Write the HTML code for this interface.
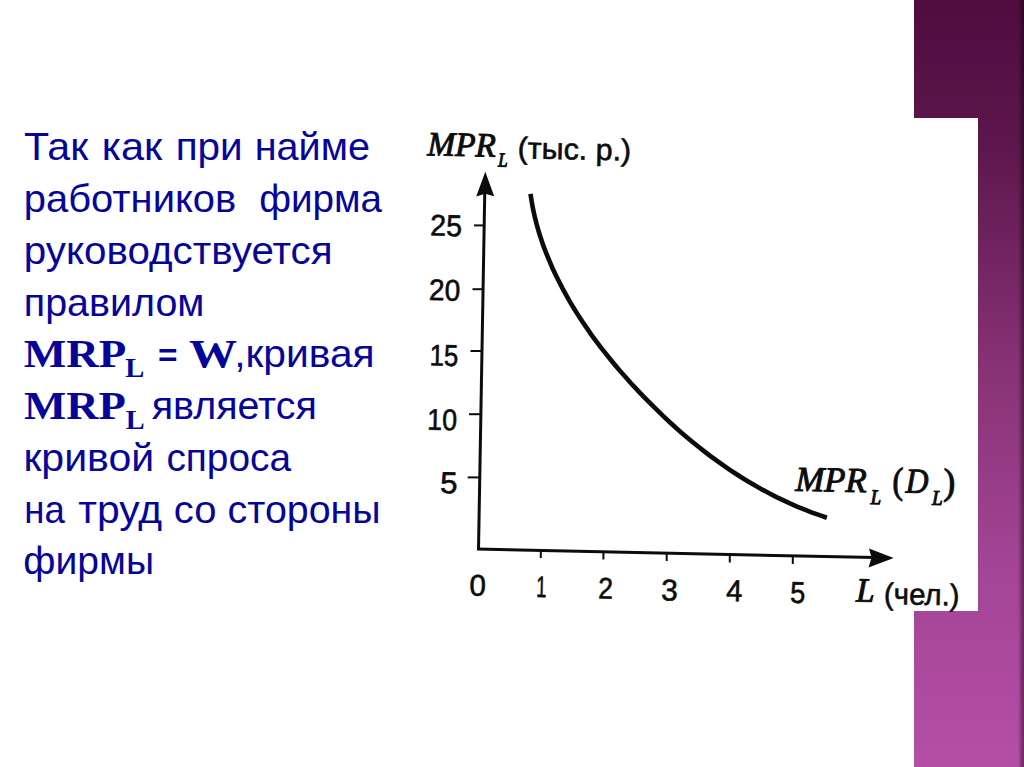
<!DOCTYPE html>
<html lang="ru">
<head>
<meta charset="utf-8">
<title>MRP</title>
<style>
html,body{margin:0;padding:0;}
body{width:1024px;height:767px;position:relative;overflow:hidden;background:#fff;}
.bar{position:absolute;left:914px;top:0;width:110px;height:767px;
  background:linear-gradient(to bottom,#4f0c3f 0%,#5c164b 18%,#8a3478 50%,#a44596 75%,#b44ea6 100%);}
.shade{position:absolute;left:1018px;top:0;width:6px;height:767px;
  background:linear-gradient(to right,rgba(0,0,0,0) 0%,rgba(0,0,0,.37) 75%,rgba(0,0,0,.4) 100%);}
.pic{position:absolute;left:405px;top:118px;width:573px;height:493px;background:#fff;}
svg.main{position:absolute;left:0;top:0;}
</style>
</head>
<body>
<div class="bar"></div>
<div class="shade"></div>
<div class="pic"></div>
<svg class="main" width="1024" height="767" viewBox="0 0 1024 767">
<g stroke="#0c0c0c" fill="none">
  <line x1="478.5" y1="549.5" x2="484.8" y2="190" stroke-width="3"/>
  <line x1="477" y1="549" x2="875" y2="557.6" stroke-width="3"/>
  <g stroke-width="2">
    <line x1="474" y1="225.4" x2="484.5" y2="225.4"/>
    <line x1="472.5" y1="289.2" x2="483.5" y2="289.2"/>
    <line x1="470.5" y1="351" x2="482.5" y2="351"/>
    <line x1="469" y1="414.2" x2="481.5" y2="414.2"/>
    <line x1="467.7" y1="477.4" x2="480" y2="477.4"/>
    <line x1="540.8" y1="550" x2="540.8" y2="558"/>
    <line x1="603.4" y1="551" x2="603.4" y2="559.5"/>
    <line x1="666.7" y1="552.5" x2="666.7" y2="561"/>
    <line x1="729.8" y1="554" x2="729.8" y2="562.5"/>
    <line x1="792.8" y1="555.5" x2="792.8" y2="564"/>
  </g>
  <path d="M530.5,193.9 L531.7,201.7 L533.1,209.3 L534.8,216.9 L536.7,224.4 L538.8,231.8 L541.1,239.1 L543.6,246.4 L546.4,253.6 L549.3,260.7 L552.3,267.7 L555.6,274.7 L559.0,281.6 L562.5,288.4 L566.2,295.2 L570.0,301.9 L574.0,308.5 L578.1,315.1 L582.3,321.5 L586.7,327.9 L591.1,334.3 L595.7,340.6 L600.4,346.8 L605.2,352.9 L610.1,359.0 L615.0,365.0 L620.1,371.0 L625.3,376.8 L630.5,382.7 L635.8,388.4 L641.2,394.1 L646.6,399.7 L652.1,405.2 L657.7,410.7 L663.3,416.1 L669.0,421.5 L674.8,426.7 L680.6,431.9 L686.5,436.9 L692.5,441.9 L698.5,446.8 L704.6,451.6 L710.8,456.3 L717.1,460.9 L723.4,465.4 L729.8,469.8 L736.2,474.0 L742.8,478.2 L749.4,482.2 L756.0,486.1 L762.8,489.9 L769.6,493.5 L776.5,497.1 L783.5,500.4 L790.5,503.7 L797.6,506.8 L804.8,509.7 L812.1,512.6 L819.5,515.2 L826.9,517.7" stroke-width="4.6"/>
</g>
<g fill="#0c0c0c">
  <polygon points="485.3,171.7 476.2,196.6 485,193.8 494.2,196.2"/>
  <polygon points="893.7,558.1 869,548.4 871.5,557.6 868.6,567.6"/>
</g>

<text x="23.94" y="160.20" font-family="'Liberation Sans', sans-serif" font-size="39" fill="#05059a" textLength="64.28" lengthAdjust="spacingAndGlyphs">Так</text>
<text x="101.80" y="160.20" font-family="'Liberation Sans', sans-serif" font-size="39" fill="#05059a" textLength="60.45" lengthAdjust="spacingAndGlyphs">как</text>
<text x="175.69" y="160.20" font-family="'Liberation Sans', sans-serif" font-size="39" fill="#05059a" textLength="67.00" lengthAdjust="spacingAndGlyphs">при</text>
<text x="254.65" y="160.20" font-family="'Liberation Sans', sans-serif" font-size="39" fill="#05059a" textLength="115.29" lengthAdjust="spacingAndGlyphs">найме</text>
<text x="23.83" y="211.90" font-family="'Liberation Sans', sans-serif" font-size="39" fill="#05059a" textLength="212.36" lengthAdjust="spacingAndGlyphs">работников</text>
<text x="259.22" y="211.90" font-family="'Liberation Sans', sans-serif" font-size="39" fill="#05059a" textLength="122.86" lengthAdjust="spacingAndGlyphs">фирма</text>
<text x="23.80" y="263.50" font-family="'Liberation Sans', sans-serif" font-size="39" fill="#05059a" textLength="308.84" lengthAdjust="spacingAndGlyphs">руководствуется</text>
<text x="23.87" y="315.70" font-family="'Liberation Sans', sans-serif" font-size="39" fill="#05059a" textLength="180.56" lengthAdjust="spacingAndGlyphs">правилом</text>
<text x="23.70" y="367.20" font-family="'Liberation Serif', serif" font-size="41" font-weight="bold" fill="#05059a" textLength="102.49" lengthAdjust="spacingAndGlyphs">MRP</text>
<text x="125.30" y="376.70" font-family="'Liberation Serif', serif" font-size="27" font-weight="bold" fill="#05059a" textLength="19.08" lengthAdjust="spacingAndGlyphs">L</text>
<text x="158.06" y="365.80" font-family="'Liberation Sans', sans-serif" font-size="32" font-weight="bold" fill="#05059a" textLength="19.51" lengthAdjust="spacingAndGlyphs">=</text>
<text x="189.03" y="367.00" font-family="'Liberation Serif', serif" font-size="41" font-weight="bold" fill="#05059a" textLength="48.04" lengthAdjust="spacingAndGlyphs">W</text>
<text x="234.22" y="367.20" font-family="'Liberation Sans', sans-serif" font-size="39" fill="#05059a" textLength="140.46" lengthAdjust="spacingAndGlyphs">,кривая</text>
<text x="23.91" y="419.00" font-family="'Liberation Serif', serif" font-size="41" font-weight="bold" fill="#05059a" textLength="101.87" lengthAdjust="spacingAndGlyphs">MRP</text>
<text x="125.70" y="428.50" font-family="'Liberation Serif', serif" font-size="27" font-weight="bold" fill="#05059a" textLength="18.86" lengthAdjust="spacingAndGlyphs">L</text>
<text x="151.79" y="418.90" font-family="'Liberation Sans', sans-serif" font-size="39" fill="#05059a" textLength="165.00" lengthAdjust="spacingAndGlyphs">является</text>
<text x="23.45" y="470.80" font-family="'Liberation Sans', sans-serif" font-size="39" fill="#05059a" textLength="130.67" lengthAdjust="spacingAndGlyphs">кривой</text>
<text x="166.41" y="470.80" font-family="'Liberation Sans', sans-serif" font-size="39" fill="#05059a" textLength="124.69" lengthAdjust="spacingAndGlyphs">спроса</text>
<text x="24.19" y="522.60" font-family="'Liberation Sans', sans-serif" font-size="39" fill="#05059a" textLength="40.53" lengthAdjust="spacingAndGlyphs">на</text>
<text x="78.35" y="522.60" font-family="'Liberation Sans', sans-serif" font-size="39" fill="#05059a" textLength="83.77" lengthAdjust="spacingAndGlyphs">труд</text>
<text x="173.75" y="522.60" font-family="'Liberation Sans', sans-serif" font-size="39" fill="#05059a" textLength="42.74" lengthAdjust="spacingAndGlyphs">со</text>
<text x="227.58" y="522.60" font-family="'Liberation Sans', sans-serif" font-size="39" fill="#05059a" textLength="153.12" lengthAdjust="spacingAndGlyphs">стороны</text>
<text x="23.29" y="574.20" font-family="'Liberation Sans', sans-serif" font-size="39" fill="#05059a" textLength="130.82" lengthAdjust="spacingAndGlyphs">фирмы</text>
<text x="427.28" y="155.30" font-family="'Liberation Serif', serif" font-size="34" font-style="italic" fill="#0c0c0c" textLength="68.29" lengthAdjust="spacingAndGlyphs" stroke="#0c0c0c" stroke-width="1.0" transform="rotate(1.15 427.28 155.30)">MPR</text>
<text x="497.96" y="166.50" font-family="'Liberation Serif', serif" font-size="20" font-style="italic" fill="#0c0c0c" textLength="9.55" lengthAdjust="spacingAndGlyphs" stroke="#0c0c0c" stroke-width="1.0" transform="rotate(1.15 497.96 166.50)">L</text>
<text x="517.47" y="158.30" font-family="'Liberation Sans', sans-serif" font-size="30" fill="#0c0c0c" textLength="113.53" lengthAdjust="spacingAndGlyphs" stroke="#0c0c0c" stroke-width="0.6" transform="rotate(1.15 517.47 158.30)">(тыс. р.)</text>
<text x="430.05" y="235.60" font-family="'Liberation Sans', sans-serif" font-size="30" fill="#0c0c0c" textLength="31.71" lengthAdjust="spacingAndGlyphs" stroke="#0c0c0c" stroke-width="0.6" transform="rotate(1.15 430.05 235.60)">25</text>
<text x="428.87" y="300.10" font-family="'Liberation Sans', sans-serif" font-size="30" fill="#0c0c0c" textLength="31.18" lengthAdjust="spacingAndGlyphs" stroke="#0c0c0c" stroke-width="0.6" transform="rotate(1.15 428.87 300.10)">20</text>
<text x="429.38" y="365.50" font-family="'Liberation Sans', sans-serif" font-size="30" fill="#0c0c0c" textLength="28.64" lengthAdjust="spacingAndGlyphs" stroke="#0c0c0c" stroke-width="0.6" transform="rotate(1.15 429.38 365.50)">15</text>
<text x="427.11" y="429.70" font-family="'Liberation Sans', sans-serif" font-size="30" fill="#0c0c0c" textLength="29.82" lengthAdjust="spacingAndGlyphs" stroke="#0c0c0c" stroke-width="0.6" transform="rotate(1.15 427.11 429.70)">10</text>
<text x="439.96" y="492.90" font-family="'Liberation Sans', sans-serif" font-size="30" fill="#0c0c0c" textLength="17.36" lengthAdjust="spacingAndGlyphs" stroke="#0c0c0c" stroke-width="0.6" transform="rotate(1.15 439.96 492.90)">5</text>
<text x="469.21" y="595.50" font-family="'Liberation Sans', sans-serif" font-size="30" fill="#0c0c0c" textLength="16.47" lengthAdjust="spacingAndGlyphs" stroke="#0c0c0c" stroke-width="0.6" transform="rotate(1.15 469.21 595.50)">0</text>
<text x="536.06" y="597.00" font-family="'Liberation Sans', sans-serif" font-size="30" fill="#0c0c0c" textLength="10.37" lengthAdjust="spacingAndGlyphs" stroke="#0c0c0c" stroke-width="0.6" transform="rotate(1.15 536.06 597.00)">1</text>
<text x="598.11" y="598.60" font-family="'Liberation Sans', sans-serif" font-size="30" fill="#0c0c0c" textLength="14.80" lengthAdjust="spacingAndGlyphs" stroke="#0c0c0c" stroke-width="0.6" transform="rotate(1.15 598.11 598.60)">2</text>
<text x="661.01" y="600.20" font-family="'Liberation Sans', sans-serif" font-size="30" fill="#0c0c0c" textLength="16.58" lengthAdjust="spacingAndGlyphs" stroke="#0c0c0c" stroke-width="0.6" transform="rotate(1.15 661.01 600.20)">3</text>
<text x="726.10" y="601.00" font-family="'Liberation Sans', sans-serif" font-size="30" fill="#0c0c0c" textLength="16.17" lengthAdjust="spacingAndGlyphs" stroke="#0c0c0c" stroke-width="0.6" transform="rotate(1.15 726.10 601.00)">4</text>
<text x="789.89" y="602.80" font-family="'Liberation Sans', sans-serif" font-size="30" fill="#0c0c0c" textLength="15.13" lengthAdjust="spacingAndGlyphs" stroke="#0c0c0c" stroke-width="0.6" transform="rotate(1.15 789.89 602.80)">5</text>
<text x="795.19" y="490.70" font-family="'Liberation Serif', serif" font-size="35" font-style="italic" fill="#0c0c0c" textLength="71.13" lengthAdjust="spacingAndGlyphs" stroke="#0c0c0c" stroke-width="1.0" transform="rotate(1.15 795.19 490.70)">MPR</text>
<text x="870.60" y="504.00" font-family="'Liberation Serif', serif" font-size="21" font-style="italic" fill="#0c0c0c" textLength="10.52" lengthAdjust="spacingAndGlyphs" stroke="#0c0c0c" stroke-width="1.0" transform="rotate(1.15 870.60 504.00)">L</text>
<text x="892.13" y="493.00" font-family="'Liberation Serif', serif" font-size="37" fill="#0c0c0c" textLength="10.76" lengthAdjust="spacingAndGlyphs" stroke="#0c0c0c" stroke-width="1.0" transform="rotate(1.15 892.13 493.00)">(</text>
<text x="905.40" y="492.40" font-family="'Liberation Serif', serif" font-size="35" font-style="italic" fill="#0c0c0c" textLength="22.66" lengthAdjust="spacingAndGlyphs" stroke="#0c0c0c" stroke-width="1.0" transform="rotate(1.15 905.40 492.40)">D</text>
<text x="932.00" y="504.80" font-family="'Liberation Serif', serif" font-size="21" font-style="italic" fill="#0c0c0c" textLength="10.52" lengthAdjust="spacingAndGlyphs" stroke="#0c0c0c" stroke-width="1.0" transform="rotate(1.15 932.00 504.80)">L</text>
<text x="943.34" y="494.00" font-family="'Liberation Serif', serif" font-size="37" fill="#0c0c0c" textLength="11.84" lengthAdjust="spacingAndGlyphs" stroke="#0c0c0c" stroke-width="1.0" transform="rotate(1.15 943.34 494.00)">)</text>
<text x="855.97" y="601.40" font-family="'Liberation Serif', serif" font-size="34" font-style="italic" fill="#0c0c0c" textLength="18.42" lengthAdjust="spacingAndGlyphs" stroke="#0c0c0c" stroke-width="1.0" transform="rotate(1.15 855.97 601.40)">L</text>
<text x="883.84" y="604.00" font-family="'Liberation Sans', sans-serif" font-size="30" fill="#0c0c0c" textLength="75.58" lengthAdjust="spacingAndGlyphs" stroke="#0c0c0c" stroke-width="0.6" transform="rotate(1.15 883.84 604.00)">(чел.)</text>
</svg>
</body>
</html>
